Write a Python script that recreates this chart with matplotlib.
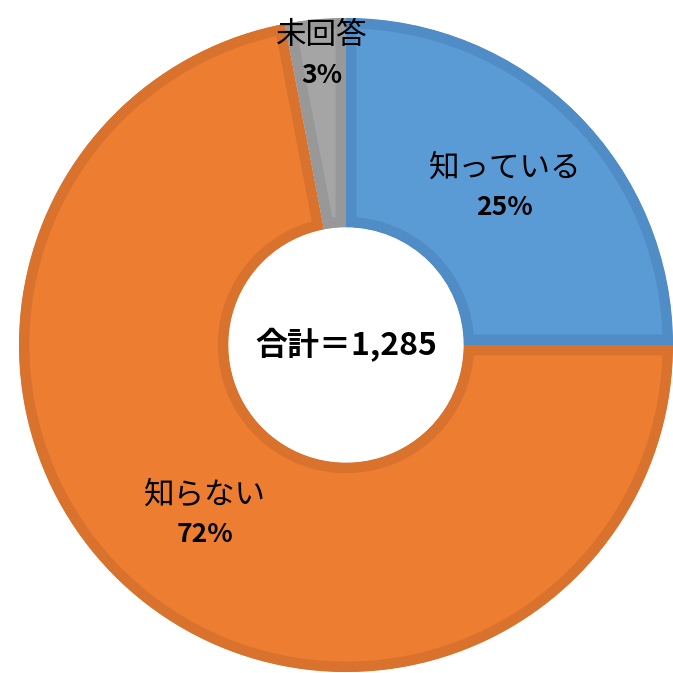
import matplotlib
matplotlib.use("Agg")
import matplotlib.pyplot as plt

plt.rcParams["font.family"] = ["Noto Sans CJK JP", "DejaVu Sans"]

# 認知度（n=1,285）
labels = ["知っている", "知らない", "未回答"]
shares = [25, 72, 3]
total = "1,285"

fills = ["#5B9BD5", "#ED7D31", "#A5A5A5"]
edges = ["#508CC6", "#D8722D", "#989898"]

fig = plt.figure(figsize=(6.73, 6.73), dpi=100)
ax = fig.add_axes([0, 0, 1, 1])

wedges, _ = ax.pie(shares, startangle=90, counterclock=False, radius=1.0,
                   colors=fills, wedgeprops=dict(width=0.64, linewidth=15))
for w, ec in zip(wedges, edges):
    w.set_edgecolor(ec)
    # pie turns clipping off; switch it back on so the border stays inside
    w.set_clip_on(True)
    w.set_clip_path(w)

# segment labels: name on top, bold share underneath
label_pos = [(0.486, 0.54), (-0.43, -0.46), (-0.073, 0.945)]
for (x, y), name, v in zip(label_pos, labels, shares):
    ax.text(x, y, name, ha="center", va="center", fontsize=22, color="black")
    ax.text(x, y - 0.12, f"{v}%", ha="center", va="center", fontsize=19,
            fontweight="bold", color="black")

ax.text(0, 0.0, f"合計＝{total}", ha="center", va="center", fontsize=23,
        fontweight="bold", color="black")

ax.set_xlim(-1.058, 1.0)
ax.set_ylim(-1.003, 1.055)
ax.set_aspect("equal")
ax.axis("off")

fig.savefig("out.png", dpi=100, facecolor="white")
